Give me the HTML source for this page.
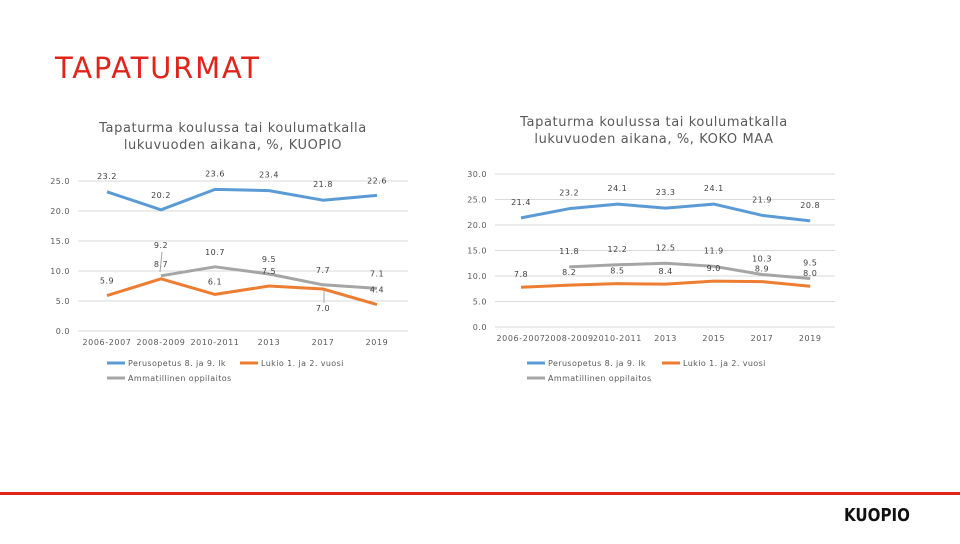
<!DOCTYPE html>
<html><head><meta charset="utf-8"><style>
body{margin:0;width:960px;height:540px;background:#fff;overflow:hidden;font-family:"DejaVu Sans","Liberation Sans",sans-serif}
svg text{font-family:"DejaVu Sans","Liberation Sans",sans-serif}
</style></head><body>
<svg id="s" width="960" height="540">
<text x="55" y="78" font-size="29" fill="#e2231a" font-family="Liberation Sans" textLength="204">TAPATURMAT</text>
<rect x="0" y="492" width="960" height="3" fill="#e2231a"/>
<text x="844" y="521" font-size="18" font-weight="bold" fill="#111" font-family="Liberation Sans" textLength="66" lengthAdjust="spacingAndGlyphs">KUOPIO</text>
<g id="c1"></g>
<g id="c2"></g>
<line x1="162" y1="252" x2="160" y2="272" stroke="#a5a5a5" stroke-width="1"/>
<line x1="324" y1="290" x2="324" y2="303" stroke="#a5a5a5" stroke-width="1"/>
</svg>
<script>
const cats1=["2006-2007","2008-2009","2010-2011","2013","2017","2019"];
const perus1=[23.2,20.2,23.6,23.4,21.8,22.6];
const lukio1=[5.9,8.7,6.1,7.5,7.0,4.4];
const ammat1=[null,9.2,10.7,9.5,7.7,7.1];
const ticks1=[0,5,10,15,20,25];
const cats2=["2006-2007","2008-2009","2010-2011","2013","2015","2017","2019"];
const perus2=[21.4,23.2,24.1,23.3,24.1,21.9,20.8];
const lukio2=[7.8,8.2,8.5,8.4,9.0,8.9,8.0];
const ammat2=[null,11.8,12.2,12.5,11.9,10.3,9.5];
const ticks2=[0,5,10,15,20,25,30];
const NS="http://www.w3.org/2000/svg";
function mk(p,t,a){const e=document.createElementNS(NS,t);for(const k in a)e.setAttribute(k,a[k]);p.appendChild(e);return e;}
function chart(g,o){
  const y=v=>o.y0-(v/o.max)*(o.y0-o.yTop);
  const x=i=>o.x0+i*o.step;
  o.ticks.forEach(t=>{
    const l=mk(g,'line',{x1:o.gx0,x2:o.gx1,y1:y(t),y2:y(t),stroke:'#d9d9d9','stroke-width':1});
    
    
    const tx=mk(g,'text',{x:o.gx0-8,y:y(t)+3,'text-anchor':'end','font-size':8,fill:'#595959','letter-spacing':0.5});
    tx.textContent=t.toFixed(1);
    
    
  });
  o.cats.forEach((c,i)=>{
    const tx=mk(g,'text',{x:x(i),y:o.y0+14,'text-anchor':'middle','font-size':8,fill:'#595959','letter-spacing':0.6});
    tx.textContent=c;
    
    
  });
  o.series.forEach(s=>{
    let d='';s.v.forEach((v,i)=>{if(v==null)return;d+=(d?'L':'M')+x(i)+','+y(v);});
    const p=mk(g,'path',{d:d,fill:'none',stroke:s.c,'stroke-width':3,'stroke-linejoin':'round'});
    
    
    s.v.forEach((v,i)=>{if(v==null)return;
      const dy=(s.dy&&s.dy[i]!=null)?s.dy[i]:-13;
      const tx=mk(g,'text',{x:x(i),y:y(v)+dy,'text-anchor':'middle','font-size':8,fill:'#404040','letter-spacing':0.5});
      tx.textContent=v.toFixed(1);
      
      
    });
  });
  o.title.forEach((t,i)=>{
    const tx=mk(g,'text',{x:o.tx,y:o.ty+i*17,'text-anchor':'middle','font-size':13,fill:'#595959','letter-spacing':0.6});
    tx.textContent=t;
    
    
  });
  o.legend.forEach(L=>{
    const l=mk(g,'line',{x1:L.x,x2:L.x+18,y1:L.y,y2:L.y,stroke:L.c,'stroke-width':3});
    
    
    const tx=mk(g,'text',{x:L.x+21,y:L.y+3,'font-size':8,fill:'#595959','letter-spacing':0.4});
    tx.textContent=L.t;
    
    
  });
}
const B='#5b9bd5',O='#ed7d31',G='#a5a5a5';
chart(document.getElementById('c1'),{y0:331,yTop:181,max:25,x0:107,step:54,gx0:78,gx1:408,ticks:ticks1,cats:cats1,
  series:[{n:'perusopetus',v:perus1,c:B,dy:[-13,-12,-13,-13,-13,-12]},
          {n:'ammatillinen',v:ammat1,c:G,dy:[null,-28,-12,-12,-12,-12]},
          {n:'lukio',v:lukio1,c:O,dy:[-12,-12,-10,-12,22,-12]}],
  title:["Tapaturma koulussa tai koulumatkalla","lukuvuoden aikana, %, KUOPIO"],tx:233,ty:132,
  legend:[{x:107,y:363,c:B,t:"Perusopetus 8. ja 9. lk"},{x:240,y:363,c:O,t:"Lukio 1. ja 2. vuosi"},{x:107,y:378,c:G,t:"Ammatillinen oppilaitos"}]});
chart(document.getElementById('c2'),{y0:327,yTop:174,max:30,x0:521,step:48.2,gx0:495,gx1:835,ticks:ticks2,cats:cats2,
  series:[{n:'perusopetus',v:perus2,c:B},
          {n:'ammatillinen',v:ammat2,c:G},
          {n:'lukio',v:lukio2,c:O,dy:[-10,-10,-10,-10,-10,-10,-10]}],
  title:["Tapaturma koulussa tai koulumatkalla","lukuvuoden aikana, %, KOKO MAA"],tx:654,ty:126,
  legend:[{x:527,y:363,c:B,t:"Perusopetus 8. ja 9. lk"},{x:662,y:363,c:O,t:"Lukio 1. ja 2. vuosi"},{x:527,y:378,c:G,t:"Ammatillinen oppilaitos"}]});
</script>
</body></html>
